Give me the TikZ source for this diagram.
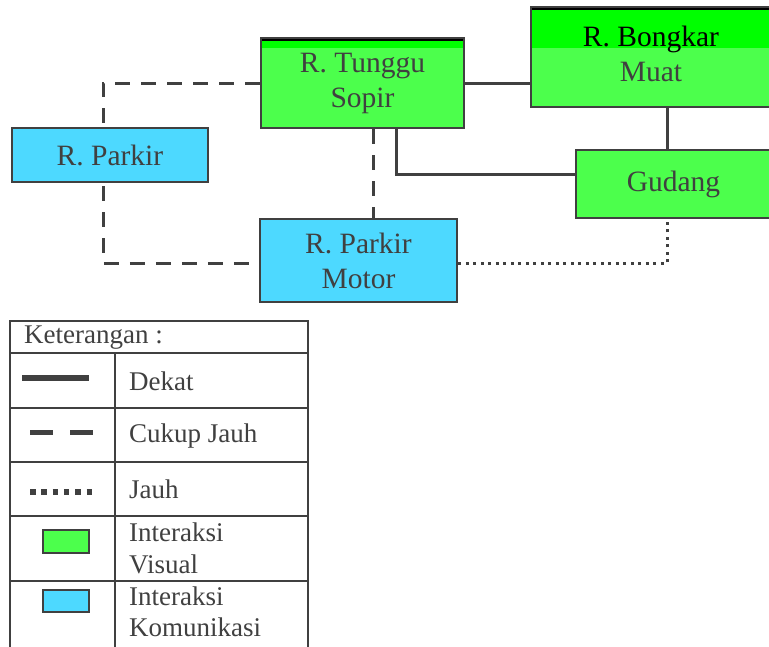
\documentclass[tikz,border=0pt]{standalone}
\usepackage{fontspec}
\setmainfont{Liberation Serif}
\usepackage{tikz}
\usetikzlibrary{positioning, backgrounds}

\definecolor{visgreen}{HTML}{4CFF4C}
\definecolor{bandgreen}{HTML}{00FF00}
\definecolor{komblue}{HTML}{4DD9FF}
\definecolor{edgegray}{HTML}{404040}

\begin{document}
\begin{tikzpicture}[
			x=1pt, y=-1pt,
			room/.style={rectangle, draw=edgegray, line width=2.5pt, text=edgegray, align=center, inner sep=0pt, font=\fontsize{29.5}{35}\selectfont},
			visual/.style={room, fill=visgreen},
			komunikasi/.style={room, fill=komblue},
			band/.style={path picture={\fill[bandgreen] (path picture bounding box.north west) rectangle ([yshift=-#1]path picture bounding box.north east);
					\draw[black, line width=5pt] (path picture bounding box.north west) -- (path picture bounding box.north east);}},
			dekat/.style={draw=edgegray, line width=3pt},
			cukup/.style={draw=edgegray, line width=3pt, dash pattern=on 15pt off 11pt},
			jauh/.style={draw=edgegray, line width=3pt, dash pattern=on 3pt off 4.5pt},
			legline/.style={draw=edgegray, line width=2pt},
			legtext/.style={anchor=west, text=edgegray, align=left, inner sep=0pt, font=\fontsize{27}{31.5}\selectfont}
			]
			
			\useasboundingbox (0,0) rectangle (769,646);
			
			\node[visual, band=10pt, minimum width=203pt, minimum height=90pt] (tunggu) at (362.5,83) {R. Tunggu\\Sopir};
			\node[visual, band=41pt, minimum width=240pt, minimum height=100pt, text depth=6pt] (bongkar) at (651,57) {\textcolor{black}{R. Bongkar}\\Muat};
			\node[visual, minimum width=195pt, minimum height=68pt] (gudang) at (673.5,184) {Gudang};
			\node[komunikasi, minimum width=196pt, minimum height=54pt] (parkir) at (110,155) {R. Parkir};
			\node[komunikasi, minimum width=197pt, minimum height=83pt] (motor) at (358.5,260.5) {R. Parkir\\Motor};
			
			\coordinate (lx) at (103,0);
			\coordinate (gx) at (667,0);
			\coordinate (mw) at ([yshift=-3pt]motor.west);
			\coordinate (me) at ([yshift=-3pt]motor.east);
			
			\begin{scope}[on background layer]
				\draw[dekat] (tunggu.east) -- (tunggu.east -| bongkar.west);
				\draw[dekat] (bongkar.south -| gx) -- (gudang.north -| gx);
				\draw[dekat] ([xshift=34pt]tunggu.south) |- ([yshift=10pt]gudang.west);
				\draw[cukup] (tunggu.west) -- (tunggu.west -| lx) -- (lx |- mw) -- (mw);
				\draw[cukup] ([xshift=10.5pt]tunggu.south) -- ([xshift=10.5pt]tunggu.south |- motor.north);
				\draw[jauh] (me) -| (gudang.south -| gx);
			\end{scope}
			
			\draw[legline] (10,321) rectangle (308,650);
			\foreach \y in {353,408,462,516,581}
			\draw[legline] (10,\y) -- (308,\y);
			\draw[legline] (115,353) -- (115,650);
			
			\node[legtext] (judul) at (24,338) {Keterangan :};
			\node[legtext] (kdekat) at (129,381) {Dekat};
			\node[legtext] (kcukup) at (129,436) {Cukup Jauh};
			\node[legtext] (kjauh) at (129,489) {Jauh};
			\node[legtext] (kvisual) at (129,548.5) {Interaksi\\Visual};
			\node[legtext] (kkom) at (129,612) {Interaksi\\Komunikasi};
			
			\draw[edgegray, line width=6pt] (22,378) -- (89,378);
			\draw[edgegray, line width=5pt, dash pattern=on 23pt off 17pt] (30,432) -- (93,432);
			\draw[edgegray, line width=5.5pt, dash pattern=on 5.5pt off 5.8pt] (30,492) -- (93,492);
			\draw[edgegray, line width=2pt, fill=visgreen] (43,530) rectangle (89,553);
			\draw[edgegray, line width=2pt, fill=komblue] (43,590) rectangle (89,612);
			
		\end{tikzpicture}
\end{document}
